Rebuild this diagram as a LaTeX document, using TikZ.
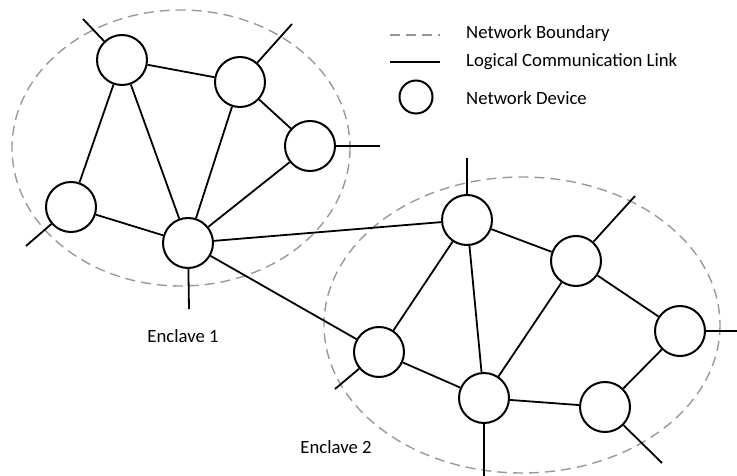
\documentclass[tikz,border=0pt]{standalone}
\usepackage{fontspec}
\setmainfont{Carlito}
\usetikzlibrary{positioning}

\tikzset{
    device/.style={circle, draw, line width=2pt, minimum size=50pt, inner sep=0pt, fill=white},
    link/.style={line width=1.8pt},
    boundary/.style={draw=gray!80, line width=1.4pt, dash pattern=on 10pt off 6pt},
    label/.style={font=\fontsize{18.7}{22}\selectfont, inner sep=0pt}
}

\begin{document}
\begin{tikzpicture}[x=1pt, y=-1pt]
    \useasboundingbox (0,0) rectangle (737,476);

    % Boundaries of the two enclaves
    \draw[boundary] (181,148) ellipse [x radius=169, y radius=138];
    \draw[boundary] (522,325) ellipse [x radius=198, y radius=148];

    % Enclave 1 devices
    \node[device] (a1) at (122,60) {};
    \node[device] (b1) at (240,82) {};
    \node[device] (c1) at (310,146) {};
    \node[device] (d1) at (71,207) {};
    \node[device] (e1) at (188,243) {};

    % Enclave 2 devices
    \node[device] (a2) at (467,220) {};
    \node[device] (b2) at (576,261) {};
    \node[device] (c2) at (680,331) {};
    \node[device] (d2) at (379,352) {};
    \node[device] (e2) at (484,398) {};
    \node[device] (f2) at (605,407) {};

    % Outside ends of the links
    \coordinate (a1x) at (83,19);
    \coordinate (b1x) at (292,24);
    \coordinate (c1x) at (380,146);
    \coordinate (d1x) at (26,246);
    \coordinate (e1x) at (189,309);
    \coordinate (a2x) at (467,158);
    \coordinate (b2x) at (635,196);
    \coordinate (c2x) at (737,331);
    \coordinate (d2x) at (335,389);
    \coordinate (e2x) at (484,476);
    \coordinate (f2x) at (662,463);

    % Links
    \foreach \u/\v in {a1/b1, a1/d1, a1/e1, b1/e1, b1/c1, c1/e1, d1/e1,
                       e1/a2, e1/d2,
                       a2/d2, a2/e2, a2/b2, b2/e2, b2/c2, c2/f2, f2/e2, d2/e2}
        \draw[link] (\u) -- (\v);
    \foreach \u in {a1, b1, c1, d1, e1, a2, b2, c2, d2, e2, f2}
        \draw[link] (\u) -- (\u x);

    % Enclave names
    \node[label] (n1) at (183,336) {Enclave 1};
    \node[label] (n2) at (336,447) {Enclave 2};

    % Legend
    \coordinate (lg1a) at (390,35);
    \coordinate (lg1b) at (440,35);
    \coordinate (lg2a) at (390,62);
    \coordinate (lg2b) at (440,62);
    \draw[boundary] (lg1a) -- (lg1b);
    \draw[link] (lg2a) -- (lg2b);
    \node[device, minimum size=33pt] (lg3) at (416,97) {};
    \node[label, anchor=west] (t1) at (466,34) {Network Boundary};
    \node[label, anchor=west] (t2) at (466,62) {Logical Communication Link};
    \node[label, anchor=west] (t3) at (466,98) {Network Device};
\end{tikzpicture}
\end{document}
